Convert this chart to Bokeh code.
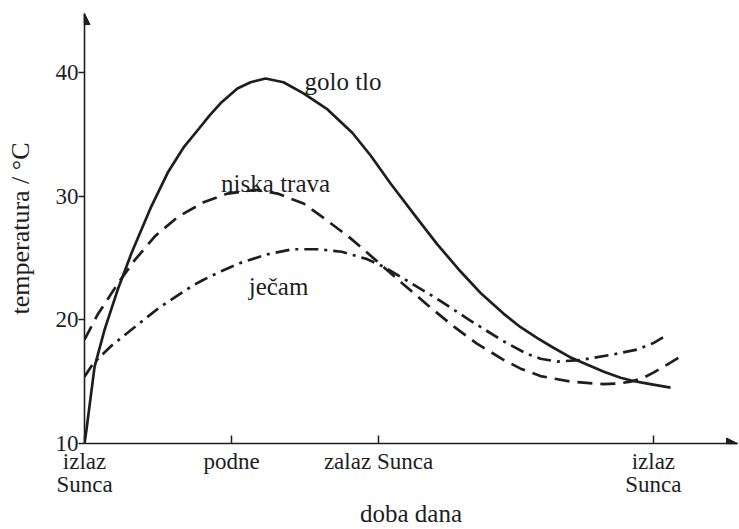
from bokeh.plotting import figure
from bokeh.models import FixedTicker, Range1d, Arrow, NormalHead
from bokeh.core.properties import value
from bokeh.embed import file_html
from bokeh.resources import INLINE

# time axis: hours after sunrise (positions)
tick_pos = [0, 6, 12, 23.22]
tick_labels = ["izlaz\nSunca", "podne", "zalaz Sunca", "izlaz\nSunca"]
y_ticks = [10, 20, 30, 40]

golo_x = [0, 0.08, 0.41, 0.82, 1.35, 1.92, 2.69, 3.4, 4.07, 4.61, 5.1, 5.55, 6.24, 6.78, 7.39, 8.12, 8.94, 9.92, 10.94, 11.67, 12.5, 13.5, 14.4, 15.35, 16.2, 17.1, 17.8, 18.5, 19.14, 19.8, 20.53, 21.2, 21.88, 22.4, 22.98, 23.92]
golo_y = [10, 11.1, 16.2, 19.2, 22.4, 25.4, 29.0, 31.9, 34.0, 35.3, 36.5, 37.5, 38.7, 39.2, 39.5, 39.2, 38.3, 37.0, 35.1, 33.3, 31.0, 28.4, 26.1, 23.9, 22.1, 20.5, 19.4, 18.5, 17.74, 17.0, 16.37, 15.8, 15.32, 15.05, 14.84, 14.52]

trava_x = [0, 0.53, 1.35, 2.04, 2.9, 3.8, 4.86, 5.84, 6.98, 7.88, 8.94, 9.92, 10.85, 11.67, 13.0, 14.0, 15.04, 16.0, 17.07, 17.8, 18.61, 19.84, 21.18, 21.8, 22.29, 22.8, 23.22, 23.8, 24.45]
trava_y = [18.4, 20.4, 22.9, 24.8, 26.8, 28.3, 29.5, 30.2, 30.5, 30.2, 29.4, 28.0, 26.6, 25.2, 22.9, 21.2, 19.5, 18.1, 16.8, 16.05, 15.45, 15.0, 14.8, 14.85, 15.0, 15.3, 15.73, 16.4, 17.18]

jecam_x = [0, 0.3, 0.6, 1.1, 1.76, 3.06, 4.37, 4.82, 5.6, 6.37, 7.48, 8.5, 9.51, 10.5, 11.54, 12.2, 13.3, 14.39, 15.7, 17.07, 18.0, 18.61, 19.31, 20.24, 21.59, 22.57, 23.2, 23.8]
jecam_y = [15.4, 16.3, 16.95, 17.9, 18.95, 21.0, 22.7, 23.2, 23.95, 24.6, 25.3, 25.7, 25.7, 25.5, 24.9, 24.3, 23.0, 21.7, 20.0, 18.3, 17.3, 16.85, 16.62, 16.75, 17.2, 17.6, 18.1, 18.8]

curve_names = ["golo tlo", "niska trava", "ječam"]
name_x = [10.55, 7.8, 7.92]
name_y = [39.27, 31.05, 22.66]

SERIF = "Liberation Serif"
INK = "#1e1e1e"

X0, PXH = 84, 24.5      # frame left (px), px per hour
Y0, PXD = 444, 12.4     # frame bottom (px), px per degree
xmax = (737 - X0) / PXH
ymax = 10 + (Y0 - 13) / PXD

p = figure(width=739, height=529, output_backend="svg", toolbar_location=None,
           x_range=Range1d(0, xmax), y_range=Range1d(10, ymax),
           min_border_left=X0, min_border_right=2, min_border_top=13, min_border_bottom=529 - Y0)
p.outline_line_color = None
p.xgrid.visible = False
p.ygrid.visible = False

p.line(golo_x, golo_y, line_color=INK, line_width=2.7, line_join="round")
p.line(trava_x, trava_y, line_color=INK, line_width=2.7, line_dash="15 8")
p.line(jecam_x, jecam_y, line_color=INK, line_width=2.7, line_dash="14 6 3 6")

p.text(x=name_x, y=name_y, text=curve_names, text_font=value(SERIF), text_font_size="25px",
       text_align="center", text_baseline="alphabetic", text_color=INK)

# x axis
p.xaxis.ticker = FixedTicker(ticks=tick_pos)
p.xaxis.major_label_overrides = {k: v for k, v in zip(tick_pos, tick_labels)}
p.xaxis.minor_tick_line_color = None
p.xaxis.major_tick_in = 8
p.xaxis.major_tick_out = 0
p.xaxis.major_label_standoff = 5
p.xaxis.major_label_text_line_height = 0.92
p.xaxis.axis_label = "doba dana"
p.xaxis.axis_label_standoff = 0
p.xaxis.axis_label_text_font_size = "25px"
p.xaxis.axis_label_text_line_height = 1.0

# y axis
p.yaxis.ticker = FixedTicker(ticks=y_ticks)
p.yaxis.minor_tick_line_color = None
p.yaxis.major_tick_in = 0
p.yaxis.major_tick_out = 6
p.yaxis.major_label_standoff = 0
p.yaxis.axis_label = "temperatura / °C"
p.yaxis.axis_label_standoff = 18
p.yaxis.axis_label_text_font_size = "26px"
p.yaxis.axis_label_text_line_height = 1.0

for ax in (p.xaxis, p.yaxis):
    ax.axis_line_color = INK
    ax.axis_line_width = 1.6
    ax.major_tick_line_color = INK
    ax.major_tick_line_width = 1.5
    ax.major_label_text_font = SERIF
    ax.major_label_text_font_size = "23px"
    ax.major_label_text_color = INK
    ax.axis_label_text_font = SERIF
    ax.axis_label_text_font_style = "normal"
    ax.axis_label_text_color = INK

p.add_layout(Arrow(x_start=xmax - 0.5, y_start=10, x_end=xmax, y_end=10, line_color=INK, line_width=1.5,
                   end=NormalHead(size=11, fill_color=INK, line_color=INK)))
p.add_layout(Arrow(x_start=0, y_start=ymax - 1.0, x_end=0, y_end=ymax, line_color=INK, line_width=1.5,
                   end=NormalHead(size=11, fill_color=INK, line_color=INK)))

open("out.html", "w").write(file_html(p, INLINE))
